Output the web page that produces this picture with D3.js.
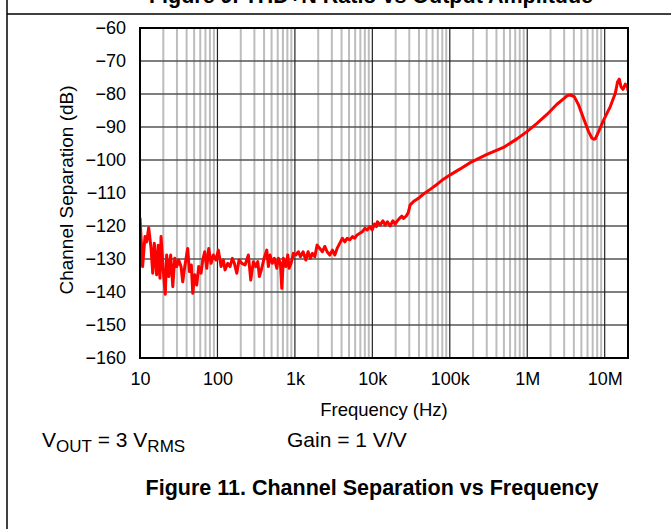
<!DOCTYPE html>
<html><head><meta charset="utf-8">
<script src="https://cdn.jsdelivr.net/npm/d3@7"></script>
<style>body{margin:0;background:#fff}svg{display:block;font-family:"Liberation Sans",Arial,sans-serif}</style>
</head><body><svg id="c" width="671" height="529"></svg>
<script>
const freqHz = [10,10.8,11.6,12.2,12.95,13.9,14.6,15.3,16.4,17.2,18.1,18.7,20,21.2,22.1,23.5,24.9,26.5,28.1,29.8,31.6,33.9,35.6,38.1,41.3,43.4,46,48,50.9,54,57.3,61.4,64.6,68.5,72.7,77.2,82.7,88.5,95.9,102.7,111.3,119.2,125.4,135.9,145.5,155.8,165.4,177.6,190.1,206.1,227.3,250.7,269.3,290.9,312.5,331.7,347.8,373.6,400.1,433.5,454.6,478.2,512,543.4,583.6,612.1,649.8,677.3,710.4,762.9,809.7,841.6,893.1,956.3,1027,1110,1178,1276,1383,1481,1586,1683,1807,1936,2098,2266,2434,2606,2824,3051,3278,3510,3803,4109,4413,4726,5121,5534,5941,6362,6895,7449,8002,8570,9283,9941,10645,11300,11640,12610,13670,14640,15680,16980,18410,19710,21110,22390,24050,25220,27340,29010,30790,33960,39400,45730,55830,68130,82890,101200,136300,183500,301600,494100,736200,991000,1335000,1797000,2419000,3097000,3300000,3594000,4048000,4601000,5340000,6194000,6854000,7270000,7560000,8342000,9680000,11810000,13710000,14680000,15440000,16240000,17240000,18460000,19770000,20000000];
const sepDb = [-117.5,-132.3,-123.2,-124.8,-120.5,-126.8,-134.3,-125.2,-134.8,-125.8,-135.8,-123.2,-133.8,-140.7,-128.8,-135.3,-128.8,-138.4,-129.8,-132.3,-130.3,-132.3,-136.9,-131.8,-126.8,-133.8,-131.8,-140.4,-134.8,-137.9,-132.3,-134.3,-130.3,-127.8,-132.8,-126.8,-131.3,-128.8,-130.3,-127.3,-132.3,-130.3,-133.3,-131.3,-132.3,-129.8,-131.3,-134.3,-130.3,-131.3,-131.8,-128.8,-136.4,-130.8,-132.3,-130.8,-135.3,-132.8,-129.8,-127.3,-132.3,-128.8,-131.3,-129.8,-132.8,-129.8,-131.3,-138.9,-129.8,-132.3,-128.8,-132.8,-131.3,-128.3,-128.8,-127.8,-129.3,-127.8,-130.3,-127.8,-129.8,-128.3,-129.3,-125.8,-126.8,-127.8,-126.2,-127.8,-128.8,-127.3,-128.8,-126.8,-125.2,-123.7,-124.8,-123.7,-124.2,-123.2,-123.7,-122.7,-122.2,-121.7,-120.7,-121.2,-120.2,-121.2,-119.4,-120.2,-118.7,-119.7,-118.4,-119.7,-118.7,-120,-118.4,-119.4,-118.4,-117.7,-117,-117.7,-117,-116,-113.6,-112.6,-111.6,-110.3,-108.9,-107.4,-105.8,-104.5,-102.7,-100.8,-98.3,-96.2,-93.6,-91.4,-88.9,-86.2,-83.1,-81,-80.5,-80.3,-80.8,-83.3,-87.4,-91.4,-93.4,-93.7,-93.6,-91.4,-87.9,-83.8,-79.8,-76.3,-75.5,-77.8,-78.6,-77,-78,-79];
const xTickValues = [10,100,1e3,1e4,1e5,1e6,1e7];
const xTickLabels = ["10","100","1k","10k","100k","1M","10M"];
const yTickValues = [-60,-70,-80,-90,-100,-110,-120,-130,-140,-150,-160];

const svg = d3.select("#c");
const L=140,R=628,T=28,B=358;
const x = d3.scaleLog().domain([10,2e7]).range([L,R]);
const y = d3.scaleLinear().domain([-160,-60]).range([B,T]);

// page frame
svg.append("text").attr("x",371).attr("y",3).attr("text-anchor","middle")
  .attr("font-size",21.5).attr("font-weight","bold").text("Figure 9. THD+N Ratio vs Output Amplitude");
svg.append("line").attr("x1",7).attr("x2",671).attr("y1",14).attr("y2",14).attr("stroke","#000").attr("stroke-width",1.5);
svg.append("line").attr("x1",7).attr("x2",7).attr("y1",0).attr("y2",529).attr("stroke","#000").attr("stroke-width",1.5);

// minor grid
const minor=[];
for(let d=10; d<2e7; d*=10) for(let k=2;k<=9;k++){ const v=d*k; if(v<2e7) minor.push(v); }
svg.append("g").selectAll("line").data(minor).join("line")
  .attr("x1",d=>x(d)).attr("x2",d=>x(d)).attr("y1",T).attr("y2",B)
  .attr("stroke","#bdbdbd").attr("stroke-width",2);
// horizontal grid
svg.append("g").selectAll("line").data(yTickValues).join("line")
  .attr("x1",L).attr("x2",R).attr("y1",d=>y(d)).attr("y2",d=>y(d))
  .attr("stroke","#555").attr("stroke-width",1.5);
// decade lines
svg.append("g").selectAll("line").data(xTickValues).join("line")
  .attr("x1",d=>x(d)).attr("x2",d=>x(d)).attr("y1",T).attr("y2",B)
  .attr("stroke","#222").attr("stroke-width",1.2);

// axes (labels only)
const xAxis = d3.axisBottom(x).tickValues(xTickValues).tickFormat((d,i)=>xTickLabels[i]).tickSize(0).tickPadding(14);
const gx = svg.append("g").attr("transform",`translate(0,${B})`).call(xAxis);
gx.select(".domain").remove();
gx.selectAll("text").attr("font-size",18).attr("font-family","Liberation Sans, Arial, sans-serif").attr("fill","#000");
const yAxis = d3.axisLeft(y).tickValues(yTickValues).tickFormat(d=>"\u2212"+Math.abs(d)).tickSize(0).tickPadding(14);
const gy = svg.append("g").attr("transform",`translate(${L},0)`).call(yAxis);
gy.select(".domain").remove();
gy.selectAll("text").attr("font-size",18).attr("font-family","Liberation Sans, Arial, sans-serif").attr("fill","#000");

// curve
const pts = freqHz.map((f,i)=>[f,sepDb[i]]);
svg.append("defs").append("clipPath").attr("id","clip").append("rect").attr("x",L).attr("y",T).attr("width",R-L).attr("height",B-T);
svg.append("path").datum(pts).attr("clip-path","url(#clip)")
  .attr("d",d3.line().x(d=>x(d[0])).y(d=>y(d[1])))
  .attr("fill","none").attr("stroke","#ff0000").attr("stroke-width",3).attr("stroke-linejoin","round");

// border
svg.append("rect").attr("x",L).attr("y",T).attr("width",R-L).attr("height",B-T)
  .attr("fill","none").attr("stroke","#000").attr("stroke-width",2);

// axis titles
svg.append("text").attr("x",384).attr("y",416).attr("text-anchor","middle").attr("font-size",18.5).text("Frequency (Hz)");
svg.append("text").attr("transform","translate(73,190) rotate(-90)").attr("text-anchor","middle").attr("font-size",19).text("Channel Separation (dB)");

// notes
const n1 = svg.append("text").attr("x",42).attr("y",447).attr("font-size",21);
n1.append("tspan").text("V");
n1.append("tspan").attr("font-size",17).attr("dy",5).text("OUT");
n1.append("tspan").attr("dy",-5).text(" = 3 V");
n1.append("tspan").attr("font-size",17).attr("dy",5).text("RMS");
svg.append("text").attr("x",287).attr("y",447).attr("font-size",21).text("Gain = 1 V/V");

svg.append("text").attr("x",372).attr("y",495).attr("text-anchor","middle").attr("font-size",21.5).attr("font-weight","bold")
  .text("Figure 11. Channel Separation vs Frequency");
</script></body></html>
